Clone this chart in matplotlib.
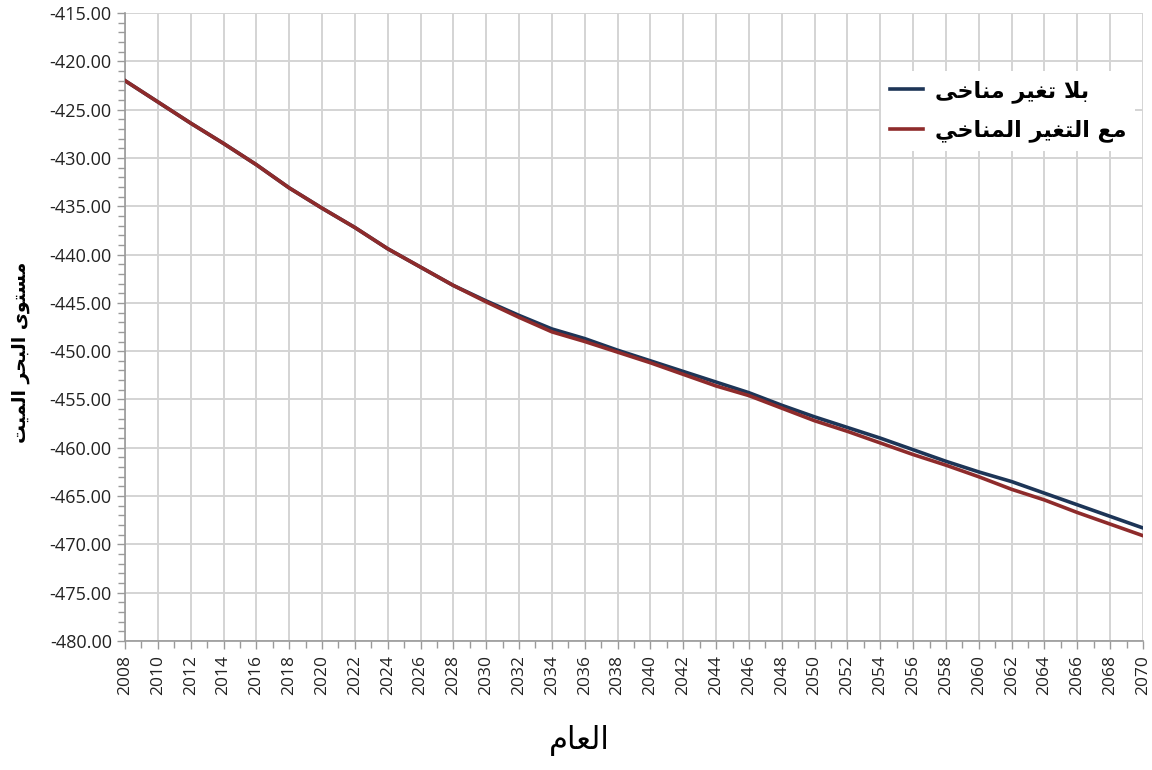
import matplotlib
matplotlib.use("Agg")
import matplotlib.pyplot as plt
from matplotlib.ticker import MultipleLocator, FormatStrFormatter

# Dead Sea level projection (m), sampled every two years
years = list(range(2008, 2071, 2))
no_climate_change = [
    -422.0, -424.2, -426.4, -428.5, -430.7, -433.1, -435.2, -437.2,
    -439.4, -441.3, -443.2, -444.8, -446.3, -447.7, -448.7, -449.9,
    -451.0, -452.1, -453.2, -454.3, -455.6, -456.8, -457.9, -459.0,
    -460.2, -461.4, -462.5, -463.5, -464.7, -465.9, -467.1, -468.3,
]
with_climate_change = [
    -422.0, -424.2, -426.4, -428.5, -430.7, -433.1, -435.2, -437.2,
    -439.4, -441.3, -443.2, -444.9, -446.5, -448.0, -449.0, -450.1,
    -451.2, -452.4, -453.6, -454.6, -455.9, -457.2, -458.3, -459.5,
    -460.7, -461.8, -463.0, -464.3, -465.4, -466.7, -467.9, -469.1,
]
label_no_cc = "بلا تغير مناخى"
label_cc = "مع التغير المناخي"
y_label = "مستوى البحر الميت"
x_label = "العام"

# Minimal Arabic shaping: contextual forms + right-to-left ordering
FORMS = {
    "ا": ("\uFE8D", "\uFE8E", None, None),
    "ب": ("\uFE8F", "\uFE90", "\uFE91", "\uFE92"),
    "ت": ("\uFE95", "\uFE96", "\uFE97", "\uFE98"),
    "ح": ("\uFEA1", "\uFEA2", "\uFEA3", "\uFEA4"),
    "خ": ("\uFEA5", "\uFEA6", "\uFEA7", "\uFEA8"),
    "ر": ("\uFEAD", "\uFEAE", None, None),
    "س": ("\uFEB1", "\uFEB2", "\uFEB3", "\uFEB4"),
    "ع": ("\uFEC9", "\uFECA", "\uFECB", "\uFECC"),
    "غ": ("\uFECD", "\uFECE", "\uFECF", "\uFED0"),
    "ل": ("\uFEDD", "\uFEDE", "\uFEDF", "\uFEE0"),
    "م": ("\uFEE1", "\uFEE2", "\uFEE3", "\uFEE4"),
    "ن": ("\uFEE5", "\uFEE6", "\uFEE7", "\uFEE8"),
    "و": ("\uFEED", "\uFEEE", None, None),
    "ى": ("\uFEEF", "\uFEF0", "\uFBE8", "\uFBE9"),
    "ي": ("\uFEF1", "\uFEF2", "\uFEF3", "\uFEF4"),
}
LAM_ALEF = ("\uFEFB", "\uFEFC")


def shape(text):
    chars = list(text)
    n = len(chars)
    out = []
    i = 0
    while i < n:
        c = chars[i]
        if c not in FORMS:
            out.append(c)
            i += 1
            continue
        prev_joins = i > 0 and chars[i - 1] in FORMS and FORMS[chars[i - 1]][2] is not None
        if c == "ل" and i + 1 < n and chars[i + 1] == "ا":
            out.append(LAM_ALEF[1] if prev_joins else LAM_ALEF[0])
            i += 2
            continue
        iso, fin, ini, med = FORMS[c]
        next_joins = ini is not None and i + 1 < n and chars[i + 1] in FORMS
        if prev_joins and next_joins:
            out.append(med)
        elif prev_joins:
            out.append(fin)
        elif next_joins:
            out.append(ini)
        else:
            out.append(iso)
        i += 1
    return "".join(reversed(out))


plt.rcParams["font.family"] = ["Open Sans", "DejaVu Sans"]

fig = plt.figure(figsize=(11.52, 7.70), dpi=100)
ax = fig.add_axes([0.1085, 0.1675, 0.8837, 0.8156])

blue = "#1d3557"
red = "#8e2b2b"
ax.plot(years, no_climate_change, color=blue, lw=2.6, label=shape(label_no_cc), zorder=3)
ax.plot(years, with_climate_change, color=red, lw=2.6, label=shape(label_cc), zorder=4)

ax.set_xlim(2008, 2070)
ax.set_ylim(-480, -415)

ax.xaxis.set_major_locator(MultipleLocator(2))
ax.xaxis.set_minor_locator(MultipleLocator(1))
ax.yaxis.set_major_locator(MultipleLocator(5))
ax.yaxis.set_minor_locator(MultipleLocator(1))
ax.yaxis.set_major_formatter(FormatStrFormatter("%.2f"))

grid_color = "#d4d4d4"
ax.grid(True, which="major", color=grid_color, lw=1.4, zorder=0)
ax.set_axisbelow(True)
for line in ax.get_ygridlines():
    if abs(line.get_ydata()[0] - (-415)) < 1e-6:
        line.set_visible(False)

spine_color = "#9a9a9a"
for side in ("top", "right"):
    ax.spines[side].set_visible(False)
for side in ("left", "bottom"):
    ax.spines[side].set_color(spine_color)
    ax.spines[side].set_linewidth(1.2)

ax.tick_params(axis="both", which="both", color=spine_color, direction="out")
ax.tick_params(axis="both", which="major", length=6, width=1.0)
ax.tick_params(axis="both", which="minor", length=5, width=1.0)
ax.tick_params(axis="y", labelsize=13, colors=spine_color, labelcolor="#222222")
ax.tick_params(axis="x", labelsize=12.5, rotation=90, colors=spine_color, labelcolor="#222222", pad=4)

fig.text(0.503, 0.038, shape(x_label), fontsize=22, ha="center", va="center",
         family=["DejaVu Sans"], color="black")
fig.text(0.018, 0.543, shape(y_label), fontsize=13.5, fontweight="bold", rotation=90,
         ha="center", va="center", family=["DejaVu Sans"], color="black")

leg = ax.legend(loc="upper right", bbox_to_anchor=(1.003, 0.925), frameon=True,
                prop={"family": ["DejaVu Sans"], "weight": "bold", "size": 16},
                handlelength=1.5, handletextpad=0.5, labelspacing=0.75,
                borderpad=0.4)
leg.get_frame().set_facecolor("white")
leg.get_frame().set_edgecolor("none")
leg.get_frame().set_alpha(1.0)

fig.savefig("out.png", dpi=100, facecolor="white")
